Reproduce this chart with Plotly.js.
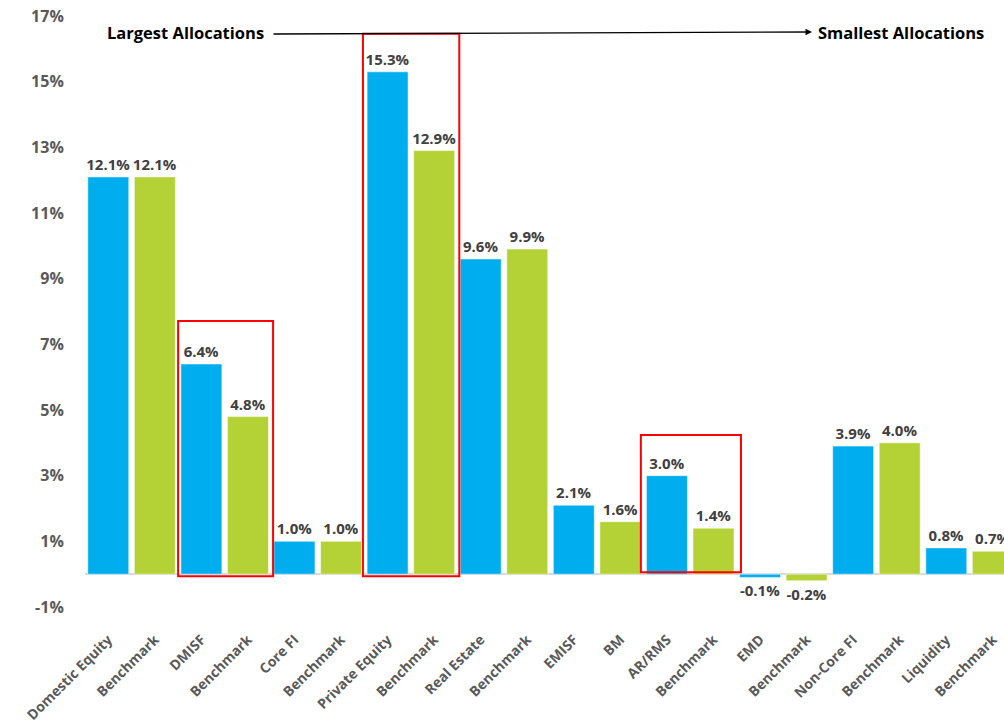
<!DOCTYPE html>
<html>
<head>
<meta charset="utf-8">
<script src="https://cdn.plot.ly/plotly-3.0.1.min.js"></script>
<style>html,body{margin:0;padding:0;background:#fff;}#chart{width:1004px;height:726px;}</style>
</head>
<body>
<div id="chart"></div>
<script>
const categories = ["Domestic Equity","Benchmark","DMISF","Benchmark","Core FI","Benchmark","Private Equity","Benchmark","Real Estate","Benchmark","EMISF","BM","AR/RMS","Benchmark","EMD","Benchmark","Non-Core FI","Benchmark","Liquidity","Benchmark"];
const values = [12.1,12.1,6.4,4.8,1.0,1.0,15.3,12.9,9.6,9.9,2.1,1.6,3.0,1.4,-0.1,-0.2,3.9,4.0,0.8,0.7];
const yTicks = [-1,1,3,5,7,9,11,13,15,17];
const yTickLabels = ["-1%","1%","3%","5%","7%","9%","11%","13%","15%","17%"];

const BLUE = "#00AEEF", GREEN = "#B4D235";
const xs = categories.map((_, i) => i);
const colors = categories.map((_, i) => i % 2 === 0 ? BLUE : GREEN);
const FONT = "Open Sans, sans-serif";

const trace = {
  type: "bar",
  x: xs,
  y: values,
  marker: {color: colors, line: {color: "rgba(255,255,255,0.5)", width: 1}},
  text: values.map(v => v.toFixed(1) + "%"),
  textposition: "outside",
  constraintext: "none",
  textfont: {family: FONT, size: 15, color: "#404040", weight: 700},
  cliponaxis: false,
  hoverinfo: "skip"
};

function redBox(x0, x1, y0, y1) {
  return {type: "rect", xref: "x", yref: "y", x0: x0, x1: x1, y0: y0, y1: y1,
          line: {color: "#FF0000", width: 2}, fillcolor: "rgba(0,0,0,0)"};
}

const layout = {
  width: 1004, height: 726,
  margin: {l: 85, r: 0, t: 16, b: 119},
  paper_bgcolor: "#fff", plot_bgcolor: "#fff",
  showlegend: false,
  bargap: 0.12,
  font: {family: FONT},
  xaxis: {
    range: [-0.5, 19.24],
    tickmode: "array", tickvals: xs, ticktext: categories,
    tickangle: -45,
    tickfont: {family: FONT, size: 14, color: "#595959", weight: 700},
    ticks: "outside", ticklen: 18, tickcolor: "rgba(0,0,0,0)",
    showgrid: false, zeroline: false, showline: false
  },
  yaxis: {
    range: [-1, 17],
    tickmode: "array", tickvals: yTicks, ticktext: yTickLabels,
    tickfont: {family: FONT, size: 16, color: "#595959", weight: 700},
    ticks: "outside", ticklen: 17, tickcolor: "rgba(0,0,0,0)",
    showgrid: false, zeroline: true, zerolinecolor: "#D9D9D9", zerolinewidth: 2,
    showline: false
  },
  shapes: [
    redBox(1.5, 3.54, -0.06, 7.71),
    redBox(5.47, 7.54, -0.06, 16.46),
    redBox(11.44, 13.59, 0.06, 4.24)
  ],
  annotations: [
    {xref: "paper", yref: "paper", x: (266 - 85) / 919, y: (607 - 32) / 591, xanchor: "right", yanchor: "middle",
     text: "Largest Allocations", showarrow: false, font: {family: FONT, size: 16.5, color: "#000", weight: 700}},
    {xref: "paper", yref: "paper", x: (816 - 85) / 919, y: (607 - 32) / 591, xanchor: "left", yanchor: "middle",
     text: "Smallest Allocations", showarrow: false, font: {family: FONT, size: 16.5, color: "#000", weight: 700}},
    {xref: "paper", yref: "paper", x: (812 - 85) / 919, y: (607 - 32) / 591, text: "", showarrow: true,
     axref: "pixel", ayref: "pixel", ax: -540, ay: 2, arrowhead: 2, arrowsize: 1, arrowwidth: 1.3, arrowcolor: "#000",
     standoff: 0, startstandoff: 0}
  ]
};

Plotly.newPlot("chart", [trace], layout, {displayModeBar: false, staticPlot: true});
</script>
</body>
</html>
